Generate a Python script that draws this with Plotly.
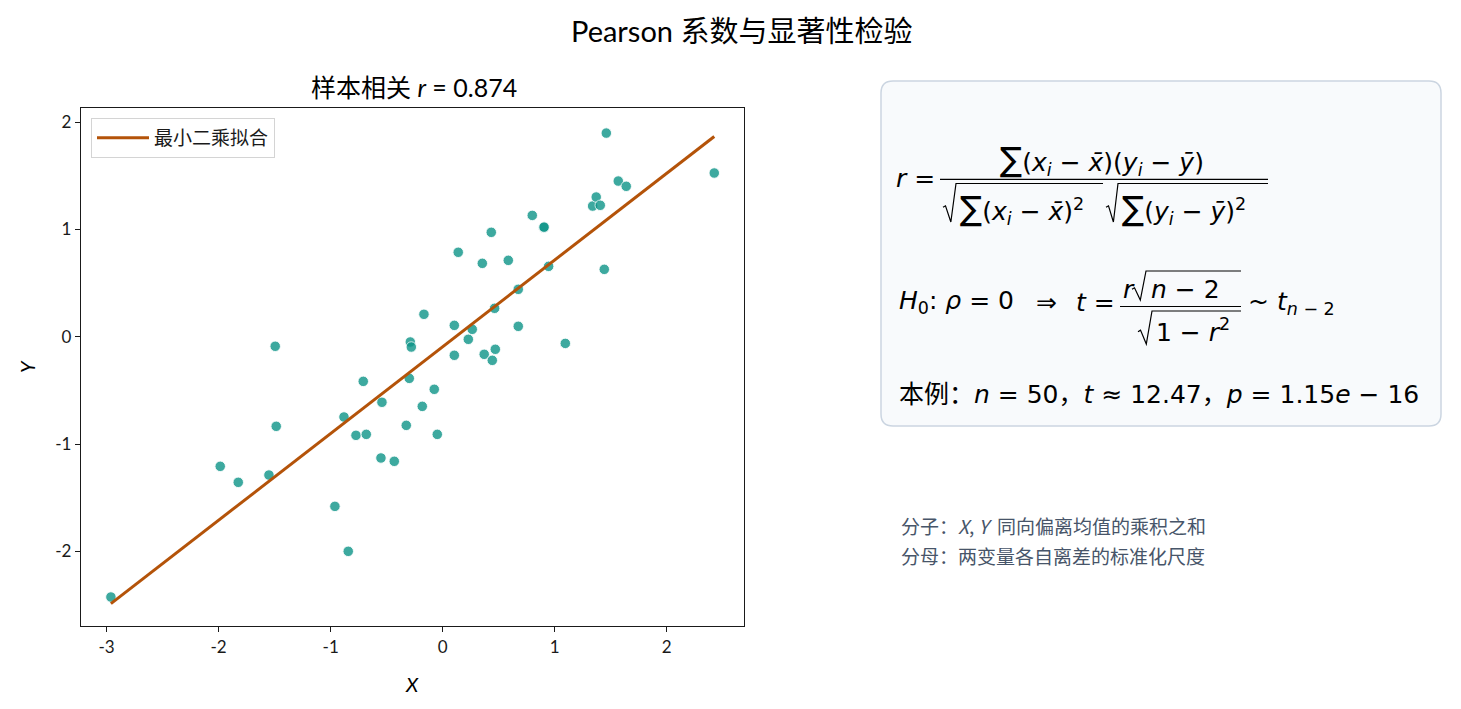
import numpy as np
import plotly.graph_objects as go

W, H = 1461, 709

# ---------------- data ----------------
x_vals = [-2.962, -1.986, -1.825, -1.551, -1.486, -1.495, -0.962, -0.843, -0.881, -0.774,
          -0.709, -0.682, -0.551, -0.542, -0.432, -0.325, -0.298, -0.289, -0.280, -0.182,
          -0.167, -0.075, -0.048, 0.104, 0.104, 0.139, 0.229, 0.264, 0.354, 0.371,
          0.434, 0.443, 0.464, 0.470, 0.586, 0.675, 0.675, 0.800, 0.902, 0.906,
          0.946, 1.095, 1.339, 1.371, 1.407, 1.443, 1.461, 1.568, 1.639, 2.425]
y_vals = [-2.426, -1.208, -1.357, -1.289, -0.835, -0.089, -1.581, -2.000, -0.748, -0.919,
          -0.416, -0.910, -1.130, -0.611, -1.161, -0.826, -0.388, -0.049, -0.096, -0.649,
          0.209, -0.490, -0.910, 0.106, -0.173, 0.787, -0.024, 0.069, 0.684, -0.164,
          0.973, -0.220, 0.265, -0.117, 0.712, 0.442, 0.097, 1.131, 1.018, 1.022,
          0.656, -0.062, 1.218, 1.302, 1.225, 0.628, 1.898, 1.451, 1.402, 1.526]

x_tickvals = [-3, -2, -1, 0, 1, 2]
x_ticktext = ["-3", "-2", "-1", "0", "1", "2"]
y_tickvals = [-2, -1, 0, 1, 2]
y_ticktext = ["-2", "-1", "0", "1", "2"]

main_title = "Pearson 系数与显著性检验"
sub_title = "样本相关 <i>r</i> = 0.874"
fit_name = "最小二乘拟合"
n_text = "50"
t_text = "12.47"
p_text = "1.15<i>e</i> − 16"
note_lines = ["分子：<i>X</i>, <i>Y</i>  同向偏离均值的乘积之和",
              "分母：两变量各自离差的标准化尺度"]

# ---------------- helpers ----------------
def PX(x):
    return x / W


def PY(y):
    return 1 - y / H


TEAL = "#0d9488"
ORANGE = "#b45309"
LATIN = "Lato, 'Noto Sans CJK SC', sans-serif"
MATH = "'DejaVu Sans', 'Noto Sans CJK SC', sans-serif"
CJK = "'Noto Sans CJK SC', sans-serif"

slope, intercept = np.polyfit(np.array(x_vals), np.array(y_vals), 1)
x_fit = np.array([min(x_vals), max(x_vals)])
y_fit = slope * x_fit + intercept

fig = go.Figure()
fig.add_trace(go.Scatter(
    x=x_vals, y=y_vals, mode="markers", showlegend=False,
    marker=dict(size=10.5, color=TEAL, opacity=0.8, line=dict(color="white", width=0.9)),
))
fig.add_trace(go.Scatter(
    x=x_fit, y=y_fit, mode="lines", name=fit_name,
    line=dict(color=ORANGE, width=3),
))

axis_common = dict(
    showline=True, mirror=True, linecolor="#1a1a1a", linewidth=1.3,
    ticks="outside", ticklen=5, tickwidth=1.2, tickcolor="#1a1a1a",
    showgrid=False, zeroline=False, automargin=False,
    tickfont=dict(family=LATIN, size=17, color="#1a1a1a"),
)

fig.update_layout(
    width=W, height=H,
    margin=dict(l=0, r=0, t=0, b=0),
    paper_bgcolor="white", plot_bgcolor="white",
    xaxis=dict(domain=[PX(81), PX(743.5)], range=[-3.229, 2.686],
               tickvals=x_tickvals, ticktext=x_ticktext, **axis_common),
    yaxis=dict(domain=[PY(626), PY(108.3)], range=[-2.696, 2.129],
               tickvals=y_tickvals, ticktext=y_ticktext, **axis_common),
    legend=dict(x=PX(91), y=PY(118), xanchor="left", yanchor="top",
                bgcolor="white", bordercolor="#d4d4d4", borderwidth=1,
                itemwidth=52,
                font=dict(family=CJK, size=19, color="#1a1a1a")),
    showlegend=True,
)

ann = []


def text(x, y, s, size, xanchor="left", family=MATH, color="black", yanchor="middle", angle=0):
    ann.append(dict(x=PX(x), y=PY(y), xref="paper", yref="paper", text=s,
                    showarrow=False, xanchor=xanchor, yanchor=yanchor, textangle=angle,
                    align="left", font=dict(family=family, size=size, color=color)))


# titles and axis labels
text(741, 30, main_title, 29, xanchor="center", family=LATIN)
text(414, 87, sub_title, 25, xanchor="center", family=LATIN)
text(412, 684, "<i>X</i>", 20, xanchor="center", family=LATIN)
text(27, 367, "<i>Y</i>", 20, xanchor="center", family=LATIN, angle=-90)

# formula box
shapes = []
bx0, by0, bx1, by1, rad = 881, 81, 1441, 426, 12
rx, ry = rad / W, rad / H
x0, x1, y0, y1 = PX(bx0), PX(bx1), PY(by1), PY(by0)
box_path = (f"M {x0+rx},{y0} L {x1-rx},{y0} Q {x1},{y0} {x1},{y0+ry} "
            f"L {x1},{y1-ry} Q {x1},{y1} {x1-rx},{y1} L {x0+rx},{y1} "
            f"Q {x0},{y1} {x0},{y1-ry} L {x0},{y0+ry} Q {x0},{y0} {x0+rx},{y0} Z")
shapes.append(dict(type="path", path=box_path, xref="paper", yref="paper",
                   fillcolor="#f8fafc", line=dict(color="#cbd5e1", width=1.5), layer="below"))


def hline(xa, xb, y, w=1.2):
    shapes.append(dict(type="line", xref="paper", yref="paper",
                       x0=PX(xa), x1=PX(xb), y0=PY(y), y1=PY(y),
                       line=dict(color="black", width=w)))


def radical(xs, xtop, ybot, ytop, xend, w=1.2):
    hgt = ybot - ytop
    hook = ybot - 0.42 * hgt
    pts = [(xs, hook + 1.5), (xs + 2.5, hook), (xs + 0.45 * (xtop - xs) + 2, ybot),
           (xtop, ytop), (xend, ytop)]
    p = "M " + " L ".join(f"{PX(a)},{PY(b)}" for a, b in pts)
    shapes.append(dict(type="path", path=p, xref="paper", yref="paper",
                       line=dict(color="black", width=w)))


FS = 25
SIG = "<span style='font-size:33px'>∑</span>"
xbar = "<i>x̄</i>"
ybar = "<i>ȳ</i>"

# formula 1: r = ...
text(937, 178, "<i>r</i> =", FS, xanchor="right")
text(1102, 160, f"{SIG}(<i>x</i><sub><i>i</i></sub> − {xbar})(<i>y</i><sub><i>i</i></sub> − {ybar})",
     FS, xanchor="center")
hline(940, 1268, 179.3)
radical(943, 956, 222, 183.5, 1103)
text(958, 209, f"{SIG}(<i>x</i><sub><i>i</i></sub> − {xbar})<sup>2</sup>", FS, xanchor="left")
radical(1106, 1118, 222, 183.5, 1268)
text(1120, 209, f"{SIG}(<i>y</i><sub><i>i</i></sub> − {ybar})<sup>2</sup>", FS, xanchor="left")

# formula 2: hypothesis test
text(897, 302, "<i>H</i><sub>0</sub>: <i>ρ</i> = 0", FS, xanchor="left")
text(1046, 302, "⇒", FS, xanchor="center")
text(1117, 302, "<i>t</i> =", FS, xanchor="right")
text(1121, 289, "<i>r</i>", FS, xanchor="left")
radical(1132, 1146, 300, 271, 1241)
text(1149, 289, "<i>n</i> − 2", FS, xanchor="left")
hline(1120, 1241, 306.5)
radical(1138, 1152, 344, 311, 1241)
text(1154, 331, "1 − <i>r</i><sup>2</sup>", FS, xanchor="left")
text(1246, 303, "~ <i>t</i><sub><i>n</i> − 2</sub>", FS, xanchor="left")

# formula 3: this example
text(897, 394, f"本例：<i>n</i> = {n_text}，<i>t</i> ≈ {t_text}，<i>p</i> = {p_text}", FS, xanchor="left")

# notes
text(899, 525, note_lines[0], 19, xanchor="left", family=CJK, color="#475569")
text(899, 555, note_lines[1], 19, xanchor="left", family=CJK, color="#475569")

fig.update_layout(annotations=ann, shapes=shapes)
fig.write_html("out.html", config={"displayModeBar": False},
               post_script="document.body.style.margin='0';")
